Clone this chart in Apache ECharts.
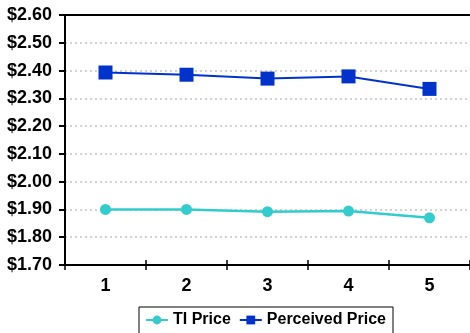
<!DOCTYPE html>
<html>
<head>
<meta charset="utf-8">
<script src="https://cdn.jsdelivr.net/npm/echarts@6/dist/echarts.min.js"></script>
<style>
  html, body { margin: 0; padding: 0; background: #fff; }
  #chart { width: 470px; height: 333px; }
</style>
</head>
<body>
<div id="chart"></div>
<script>
// Survey rounds on the x axis
const periods = ['1', '2', '3', '4', '5'];
// Price series (dollars)
const tiPrice = [1.900, 1.900, 1.892, 1.894, 1.870];
const perceivedPrice = [2.393, 2.385, 2.371, 2.379, 2.334];
// Value axis range and step
const yMin = 1.7;
const yMax = 2.6;
const yStep = 0.1;

const FONT = '"Liberation Sans", Arial, sans-serif';
const chart = echarts.init(document.getElementById('chart'), null, { renderer: 'canvas' });

chart.setOption({
  animation: false,
  backgroundColor: '#fff',
  grid: { left: 65, top: 15, width: 410, height: 250, show: false },
  legend: {
    data: ['TI Price', 'Perceived Price'],
    left: 139, top: 307,
    padding: [5, 7, 8, 6],
    itemGap: 8, itemWidth: 22, itemHeight: 11,
    borderColor: '#000', borderWidth: 1,
    textStyle: { fontFamily: FONT, fontWeight: 'bold', fontSize: 16, color: '#000' }
  },
  xAxis: [{
    // main category axis with outer ticks and labels
    type: 'category', data: periods, position: 'bottom',
    axisLine: { lineStyle: { color: '#000', width: 2 } },
    axisTick: { show: true, length: 5, lineStyle: { color: '#000', width: 1.5 } },
    axisLabel: { margin: 12, fontFamily: FONT, fontWeight: 'bold', fontSize: 18, color: '#000' },
    splitLine: { show: false }
  }, {
    // same axis again, ticks pointing into the plot so they cross the line
    type: 'category', data: periods, position: 'bottom', offset: 0,
    axisLine: { show: false },
    axisTick: { show: true, inside: true, length: 5, lineStyle: { color: '#000', width: 1.5 } },
    axisLabel: { show: false },
    splitLine: { show: false }
  }, {
    // top edge of the plot frame
    type: 'category', data: periods, position: 'top', offset: 0,
    axisLine: { show: true, lineStyle: { color: '#000', width: 2 } },
    axisTick: { show: false },
    axisLabel: { show: false },
    splitLine: { show: false }
  }],
  yAxis: {
    type: 'value', min: yMin, max: yMax, interval: yStep,
    axisLine: { show: true, lineStyle: { color: '#000', width: 2 } },
    axisTick: { show: true, length: 6, lineStyle: { color: '#000', width: 2 } },
    axisLabel: {
      margin: 13, fontFamily: FONT, fontWeight: 'bold', fontSize: 18, color: '#000',
      formatter: v => '$' + v.toFixed(2)
    },
    splitLine: {
      show: true,
      lineStyle: { color: '#c4c4c4', width: 1.5, type: [2, 3] }
    }
  },
  series: [{
    name: 'TI Price', type: 'line', data: tiPrice,
    symbol: 'circle', symbolSize: 11,
    itemStyle: { color: '#33CCCC' },
    lineStyle: { color: '#33CCCC', width: 2.5 }
  }, {
    name: 'Perceived Price', type: 'line', data: perceivedPrice,
    symbol: 'rect', symbolSize: 14,
    itemStyle: { color: '#0033CC' },
    lineStyle: { color: '#0033CC', width: 2 }
  }]
});
</script>
</body>
</html>
